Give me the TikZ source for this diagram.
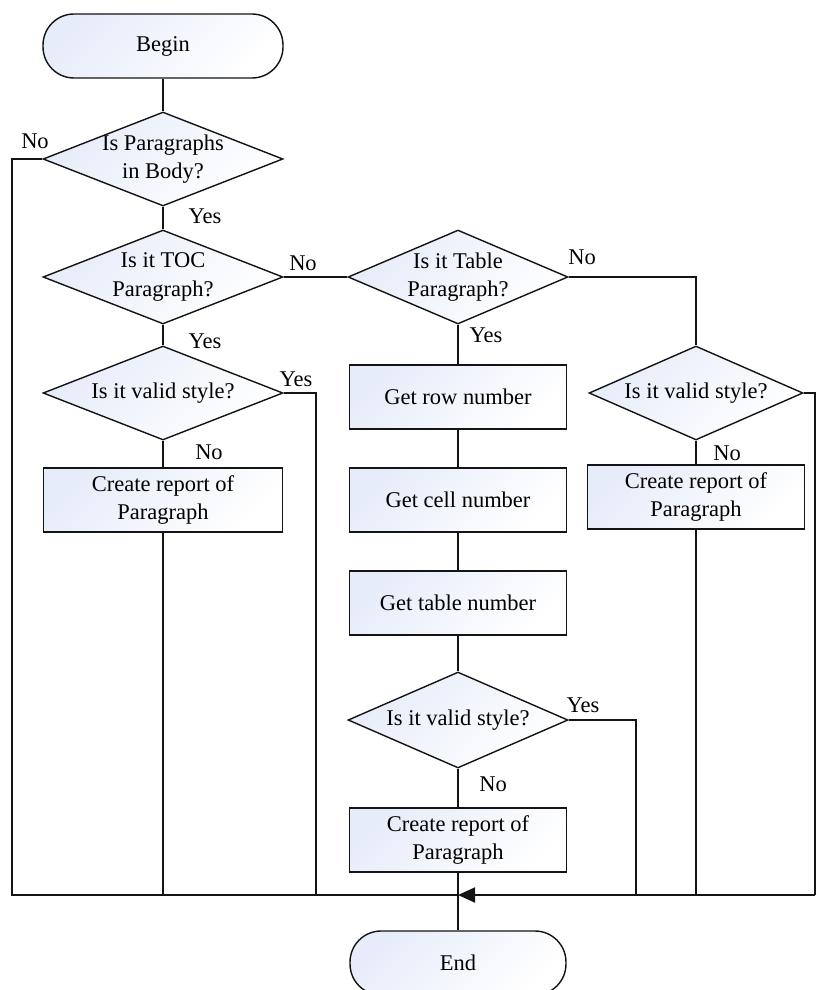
\documentclass[tikz,border=0pt]{standalone}
\usepackage{fontspec}
\setmainfont{Liberation Serif}
\usepackage{xcolor}
\definecolor{flowblue}{RGB}{230,236,249}
\definecolor{flowline}{RGB}{20,20,20}
\usetikzlibrary{shapes.geometric,arrows.meta}

\begin{document}
\begin{tikzpicture}[x=0.02cm, y=-0.02cm,
  base/.style={draw=flowline, line width=0.8pt, left color=flowblue, right color=white, shading angle=45, font=\rmfamily\fontsize{12.8}{16}\selectfont, align=center},
  term/.style={base, rounded corners=0.62cm, minimum width=4.8cm, minimum height=1.28cm},
  ask/.style={base, diamond, aspect=2.5, inner sep=-5pt, minimum height=1.88cm},
  proc/.style={base, rectangle, minimum width=4.34cm, minimum height=1.28cm},
  tag/.style={font=\rmfamily\fontsize{12.8}{16}\selectfont, inner sep=0pt},
  link/.style={draw=flowline, line width=1.1pt}
]
  \useasboundingbox (0,0) rectangle (817,990);

  % Left column
  \node[term] (begin) at (163,46) {Begin};
  \node[ask, minimum width=4.8cm] (q1) at (163,159) {Is Paragraphs\\in Body?};
  \node[ask, minimum width=4.8cm] (q2) at (163,277) {Is it TOC\\Paragraph?};
  \node[ask, minimum width=4.8cm] (q4) at (163,393) {Is it valid style?};
  \node[proc, minimum width=4.78cm] (rep1) at (163,500) {Create report of\\Paragraph};

  % Middle column
  \node[ask, minimum width=4.4cm] (q3) at (458,277) {Is it Table\\Paragraph?};
  \node[proc] (row)  at (458,397) {Get row number};
  \node[proc] (cell) at (458,500) {Get cell number};
  \node[proc] (tab)  at (458,603) {Get table number};
  \node[ask, minimum width=4.4cm, minimum height=1.92cm] (q6) at (458,720) {Is it valid style?};
  \node[proc] (rep3) at (458,840) {Create report of\\Paragraph};
  \node[term, minimum width=4.32cm] (end) at (458,963) {End};

  % Right column
  \node[ask, minimum width=4.28cm] (q5) at (696,393) {Is it valid style?};
  \node[proc] (rep2) at (696,497) {Create report of\\Paragraph};

  % Labels
  \node[tag] (no1)  at (35,141)  {No};
  \node[tag] (yes1) at (205,216) {Yes};
  \node[tag] (no2)  at (303,263) {No};
  \node[tag] (yes2) at (205,341) {Yes};
  \node[tag] (yes4) at (296,379) {Yes};
  \node[tag] (no4)  at (209,452) {No};
  \node[tag] (no3)  at (582,257) {No};
  \node[tag] (yes3) at (486,335) {Yes};
  \node[tag] (no5)  at (727,453) {No};
  \node[tag] (yes6) at (583,705) {Yes};
  \node[tag] (no6)  at (493,784) {No};

  % Collecting line
  \coordinate (join) at (458,895);
  \coordinate (lft)  at (12,895);
  \coordinate (rgt)  at (815,895);
  \coordinate (c4)   at (316,895);
  \coordinate (c6)   at (636,895);

  % Connectors
  \foreach \a/\b in {begin/q1, q1/q2, q2/q4, q4/rep1, q2/q3, q3/row, row/cell, cell/tab, tab/q6, q6/rep3, rep3/end, q5/rep2}
    \draw[link] (\a) -- (\b);
  \draw[link] (q3.east) -| (q5.north);
  \draw[link] (q1.west) -| (lft) -- (join);
  \draw[link] (q4.east) -| (c4);
  \draw[link] (q6.east) -| (c6);
  \draw[link] (rep1) -- (rep1 |- join);
  \draw[link] (rep2) -- (rep2 |- join);
  \draw[link] (q5.east) -| (rgt);
  \draw[link, -{Triangle[length=0.34cm, width=0.3cm]}] (rgt) -- (join);
\end{tikzpicture}
\end{document}
